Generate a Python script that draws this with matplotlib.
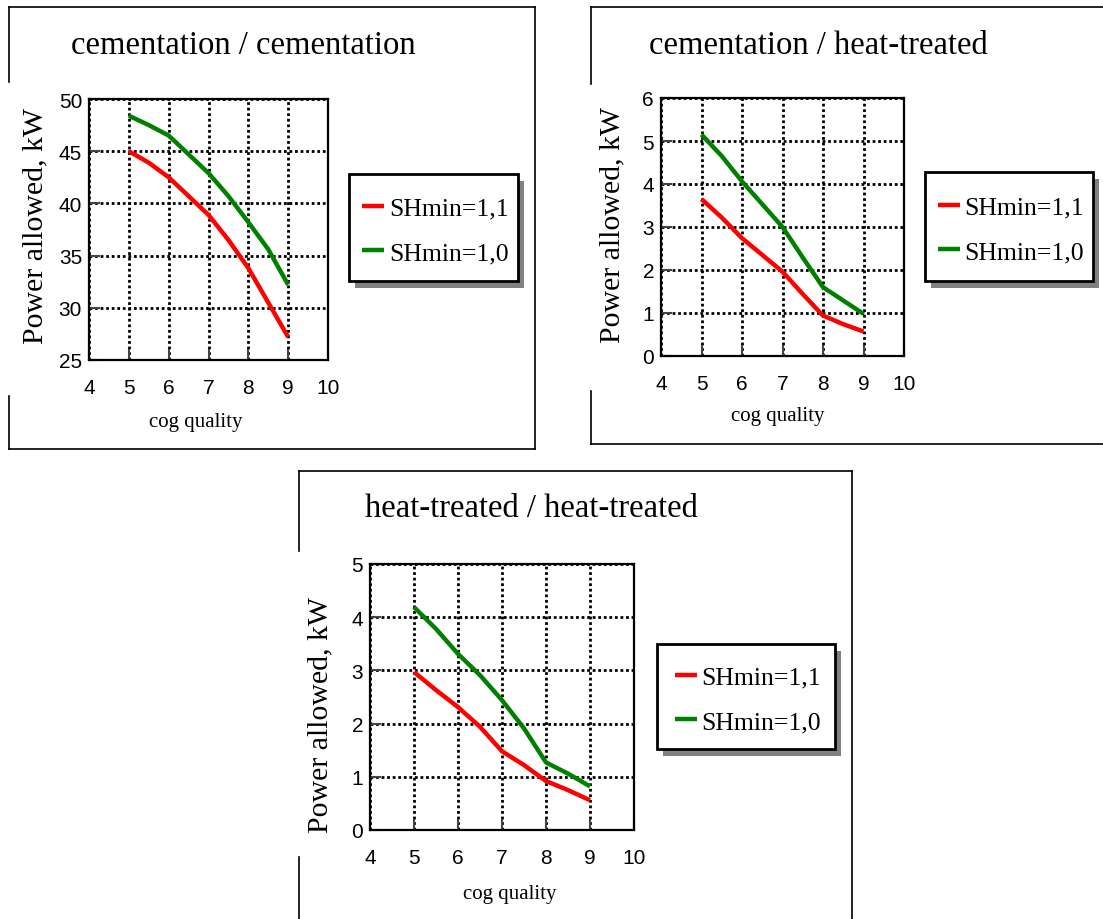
import matplotlib
matplotlib.use("Agg")
import matplotlib.pyplot as plt
from matplotlib.lines import Line2D
from matplotlib.patches import Rectangle

W, H = 1103, 920

# -----------------------------
# Dados
# -----------------------------
cog_quality = [5, 5.5, 6, 6.5, 7, 7.5, 8, 8.5, 9]
series_labels = ["SHmin=1,1", "SHmin=1,0"]
series_colors = ["#ff0000", "#008000"]

titles = ["cementation / cementation", "cementation / heat-treated", "heat-treated / heat-treated"]

cem_cem_11 = [45.0, 43.9, 42.5, 40.7, 38.9, 36.5, 33.8, 30.5, 27.2]
cem_cem_10 = [48.4, 47.5, 46.5, 44.7, 42.9, 40.7, 38.2, 35.6, 32.2]

cem_heat_11 = [3.65, 3.22, 2.74, 2.35, 1.96, 1.44, 0.94, 0.74, 0.57]
cem_heat_10 = [5.15, 4.65, 4.06, 3.53, 3.00, 2.29, 1.60, 1.29, 0.98]

heat_heat_11 = [2.97, 2.63, 2.31, 1.94, 1.48, 1.22, 0.92, 0.75, 0.56]
heat_heat_10 = [4.19, 3.78, 3.31, 2.91, 2.44, 1.91, 1.27, 1.06, 0.82]

x_ticks = [4, 5, 6, 7, 8, 9, 10]
y_ticks_1 = [25, 30, 35, 40, 45, 50]
y_ticks_2 = [0, 1, 2, 3, 4, 5, 6]
y_ticks_3 = [0, 1, 2, 3, 4, 5]

plt.rcParams["font.family"] = ["Liberation Serif", "DejaVu Serif"]

fig = plt.figure(figsize=(W / 100, H / 100), dpi=100)


def fx(px):
    return px / W


def fy(py):
    return 1 - py / H


def seg(x0, y0, x1, y1):
    fig.add_artist(Line2D([fx(x0), fx(x1)], [fy(y0), fy(y1)], color="black", lw=1.2))


# -----------------------------
# Layout de cada painel (pixels)
# -----------------------------
panels = [
    dict(box=(89, 100, 328, 361), series=(cem_cem_11, cem_cem_10), yticks=y_ticks_1,
         title=(243, 46), xlabel=(196, 423), ylabel=(35, 226), legend=(349, 175, 518, 282),
         frame=[(9, 8, 535, 8), (535, 8, 535, 450), (9, 450, 535, 450), (9, 8, 9, 83), (9, 397, 9, 450)]),
    dict(box=(661, 99, 904, 357), series=(cem_heat_11, cem_heat_10), yticks=y_ticks_2,
         title=(818, 46), xlabel=(778, 417), ylabel=(612, 225), legend=(925, 173, 1093, 282),
         frame=[(591, 8, 1103, 8), (591, 445, 1103, 445), (591, 8, 591, 85), (591, 392, 591, 445)]),
    dict(box=(370, 565, 634, 831), series=(heat_heat_11, heat_heat_10), yticks=y_ticks_3,
         title=(531, 509), xlabel=(510, 895), ylabel=(320, 715), legend=(657, 645, 835, 750),
         frame=[(299, 472, 852, 472), (852, 472, 852, 920), (299, 472, 299, 552), (299, 858, 299, 920)]),
]

for i, p in enumerate(panels):
    l, t, r, b = p["box"]
    ax = fig.add_axes([fx(l), fy(b), fx(r) - fx(l), fy(t) - fy(b)])

    handles = []
    for ys, lab, col in zip(p["series"], series_labels, series_colors):
        h, = ax.plot(cog_quality, ys, color=col, lw=3.2, label=lab, solid_capstyle="butt")
        handles.append(h)

    ax.set_xlim(4, 10)
    ax.set_ylim(p["yticks"][0], p["yticks"][-1])
    ax.set_xticks(x_ticks)
    ax.set_yticks(p["yticks"])
    ax.grid(True, color="black", linestyle=(0, (1, 1)), lw=2.0)
    for s in ax.spines.values():
        s.set_linewidth(1.6)
    ax.tick_params(direction="in", length=8, width=1.5, color="#444444", labelsize=15)
    ax.tick_params(axis="x", pad=13)
    ax.tick_params(axis="y", pad=5)
    for lbl in ax.get_xticklabels() + ax.get_yticklabels():
        lbl.set_fontfamily("Liberation Sans")

    # textos
    fig.text(fx(p["title"][0]), fy(p["title"][1]), titles[i], fontsize=23.5, ha="center", va="center")
    fig.text(fx(p["xlabel"][0]), fy(p["xlabel"][1]), "cog quality", fontsize=15, ha="center", va="center")
    fig.text(fx(p["ylabel"][0]), fy(p["ylabel"][1]), "Power allowed, kW", fontsize=21.5,
             ha="center", va="center", rotation=90)

    # legenda com sombra
    ll, lt, lr, lb = p["legend"]
    fig.add_artist(Rectangle((fx(ll + 6), fy(lb + 7)), fx(lr) - fx(ll), fy(lt) - fy(lb),
                             facecolor="#808080", edgecolor="none", zorder=-2))
    fig.add_artist(Rectangle((fx(ll), fy(lb)), fx(lr) - fx(ll), fy(lt) - fy(lb),
                             facecolor="white", edgecolor="black", lw=2.0, zorder=-1))
    ax.legend(handles=handles, loc="center",
              bbox_to_anchor=(fx(ll + 2), fy(lb + 3), fx(lr) - fx(ll), fy(lt) - fy(lb)),
              bbox_transform=fig.transFigure, frameon=False, fontsize=18.5,
              handlelength=0.85, handletextpad=0.2, labelspacing=0.85)

    for s in p["frame"]:
        seg(*s)

fig.savefig("out.png", dpi=100)
